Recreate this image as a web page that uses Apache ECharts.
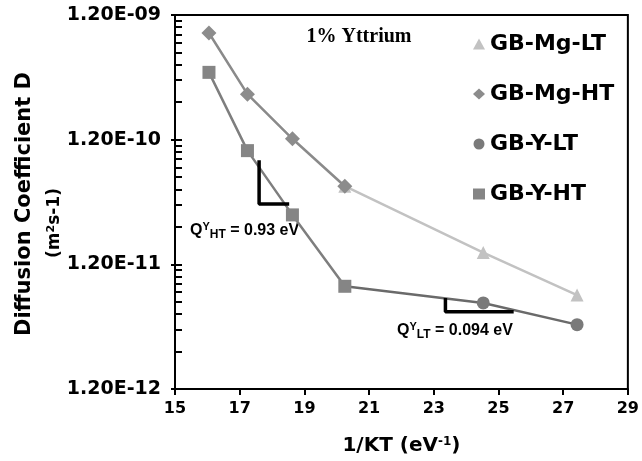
<!DOCTYPE html>
<html>
<head>
<meta charset="utf-8">
<script src="https://cdn.jsdelivr.net/npm/echarts@6/dist/echarts.min.js"></script>
<style>html,body{margin:0;padding:0;background:#fff}#c{width:642px;height:461px}</style>
</head>
<body>
<div id="c"></div>
<script>
// x values: 1/kT (eV^-1)
const xValues = [16.05, 17.24, 18.63, 20.25, 24.53, 27.43];
// Diffusion coefficients (m^2 s^-1)
const mgHT = [8.6e-10, 2.78e-10, 1.22e-10, 5.08e-11];      // at xValues[0..3]
const mgLT = [5.08e-11, 1.49e-11, 6.8e-12];                // at xValues[3..5]
const yHT  = [4.16e-10, 9.8e-11, 2.99e-11, 8.0e-12];       // at xValues[0..3]
const yLT  = [8.0e-12, 5.88e-12, 3.94e-12];                // at xValues[3..5]
// slope-triangle annotation vertices (data units)
const slopeHT = [[17.60, 8.2e-11], [17.60, 3.66e-11], [18.53, 3.66e-11]];
const slopeLT = [[23.36, 6.45e-12], [23.36, 4.99e-12], [25.47, 4.99e-12]];
// axis ticks
const yTickValues = [1.2e-12, 1.2e-11, 1.2e-10, 1.2e-9];
const yTickLabels = ['1.20E-12', '1.20E-11', '1.20E-10', '1.20E-09'];
const xTicks = [15, 17, 19, 21, 23, 25, 27, 29];
const seriesNames = ['GB-Mg-LT', 'GB-Mg-HT', 'GB-Y-LT', 'GB-Y-HT'];
const seriesIcons = ['triangle', 'diamond', 'circle', 'rect'];

const yMinor = [];
for (let d = 0; d < yTickValues.length - 1; d++) {
  for (let k = 2; k <= 9; k++) yMinor.push(yTickValues[d] * k);
}

function pairs(xs, ys) { return ys.map((v, i) => [xs[i], v]); }

const F = 'DejaVu Sans';
const chart = echarts.init(document.getElementById('c'), null, {renderer: 'canvas'});
chart.setOption({
  animation: false,
  backgroundColor: '#fff',
  grid: {left: 175, right: 13, top: 15, bottom: 68, show: true, borderColor: '#000', borderWidth: 2},
  legend: {
    orient: 'vertical', left: 468, top: 28, itemGap: 28, itemWidth: 12, itemHeight: 11,
    data: seriesNames.map((n, i) => ({name: n, icon: seriesIcons[i]})),
    textStyle: {fontFamily: F, fontWeight: 'bold', fontSize: 22, color: '#000'}
  },
  xAxis: {
    type: 'value', min: 15, max: 29, interval: 2,
    axisLine: {lineStyle: {color: '#000', width: 2}},
    axisTick: {show: true, inside: false, length: 6, lineStyle: {color: '#000', width: 2}},
    splitLine: {show: false},
    axisLabel: {fontFamily: F, fontWeight: 'bold', fontSize: 16, color: '#000', margin: 12,
      formatter: v => xTicks.includes(v) ? String(v) : ''},
    name: '1/KT (eV{sup|-1})', nameLocation: 'middle', nameGap: 47,
    nameTextStyle: {fontFamily: F, fontWeight: 'bold', fontSize: 20, color: '#000',
      rich: {sup: {fontFamily: F, fontWeight: 'bold', fontSize: 12, color: '#000', verticalAlign: 'top', padding: [0, 0, 8, 0]}}}
  },
  yAxis: [{
    type: 'log', logBase: 10, min: 1.2e-12, max: 1.2e-9,
    axisLine: {lineStyle: {color: '#000', width: 2}},
    axisTick: {show: true, inside: false, length: 4, customValues: yTickValues, lineStyle: {color: '#000', width: 2}},
    minorTick: {show: false},
    splitLine: {show: false},
    axisLabel: {fontFamily: F, fontWeight: 'bold', fontSize: 19, color: '#000', margin: 14,
      customValues: yTickValues,
      formatter: v => {
        let best = 0;
        yTickValues.forEach((t, i) => { if (Math.abs(Math.log10(t) - Math.log10(v)) < Math.abs(Math.log10(yTickValues[best]) - Math.log10(v))) best = i; });
        return yTickLabels[best];
      }}
  }, {
    type: 'log', logBase: 10, min: 1.2e-12, max: 1.2e-9, position: 'left',
    axisLine: {show: false},
    axisTick: {show: true, inside: true, length: 7, customValues: yTickValues.concat(yMinor), lineStyle: {color: '#000', width: 2}},
    axisLabel: {show: false},
    splitLine: {show: false}
  }],
  series: [
    {name: 'GB-Mg-LT', type: 'line', data: pairs(xValues.slice(3), mgLT), symbol: 'triangle', symbolSize: 13,
      itemStyle: {color: '#c2c2c2'}, lineStyle: {color: '#c2c2c2', width: 2.5}, z: 2},
    {name: 'GB-Mg-HT', type: 'line', data: pairs(xValues, mgHT), symbol: 'diamond', symbolSize: 15,
      itemStyle: {color: '#8c8c8c'}, lineStyle: {color: '#8a8a8a', width: 2.5}, z: 3},
    {name: 'GB-Y-LT', type: 'line', data: pairs(xValues.slice(3), yLT).map((p, i) => i === 0 ? {value: p, symbol: 'none'} : p),
      symbol: 'circle', symbolSize: 13,
      itemStyle: {color: '#7a7a7a'}, lineStyle: {color: '#6a6a6a', width: 2.5}, z: 2},
    {name: 'GB-Y-HT', type: 'line', data: pairs(xValues, yHT), symbol: 'rect', symbolSize: 13,
      itemStyle: {color: '#858585'}, lineStyle: {color: '#7e7e7e', width: 2.5}, z: 3},
    {name: 'slopeHT', type: 'line', data: slopeHT, symbol: 'none', silent: true,
      lineStyle: {color: '#000', width: 3.5}, z: 4},
    {name: 'slopeLT', type: 'line', data: slopeLT, symbol: 'none', silent: true,
      lineStyle: {color: '#000', width: 3.5}, z: 4}
  ],
  graphic: [
    {type: 'text', x: 359, y: 37, style: {text: '1% Yttrium', font: 'bold 20px "Liberation Serif"', fill: '#000', textAlign: 'center', textVerticalAlign: 'middle'}},
    {type: 'text', x: 25, y: 204, rotation: Math.PI / 2, style: {text: 'Diffusion Coefficient D', font: 'bold 21px "DejaVu Sans"', fill: '#000', textAlign: 'center', textVerticalAlign: 'middle'}},
    {type: 'text', x: 55, y: 223, rotation: Math.PI / 2, style: {text: '(m{sup|2}s-1)', font: 'bold 17px "DejaVu Sans"', fill: '#000', textAlign: 'center', textVerticalAlign: 'middle',
      rich: {sup: {font: 'bold 11px "DejaVu Sans"', fill: '#000', verticalAlign: 'top', padding: [0, 0, 8, 0]}}}},
    {type: 'text', x: 190, y: 231, style: {text: 'Q{sup|Y}{sub|HT} = 0.93 eV', font: 'bold 16px "Liberation Sans"', fill: '#000', textAlign: 'left', textVerticalAlign: 'middle',
      rich: {sup: {font: 'bold 11px "Liberation Sans"', fill: '#000', padding: [0, 0, 9, 0]}, sub: {font: 'bold 12px "Liberation Sans"', fill: '#000', padding: [8, 0, 0, 0]}}}},
    {type: 'text', x: 397, y: 331, style: {text: 'Q{sup|Y}{sub|LT} = 0.094 eV', font: 'bold 16px "Liberation Sans"', fill: '#000', textAlign: 'left', textVerticalAlign: 'middle',
      rich: {sup: {font: 'bold 11px "Liberation Sans"', fill: '#000', padding: [0, 0, 9, 0]}, sub: {font: 'bold 12px "Liberation Sans"', fill: '#000', padding: [8, 0, 0, 0]}}}}
  ]
});
</script>
</body>
</html>
